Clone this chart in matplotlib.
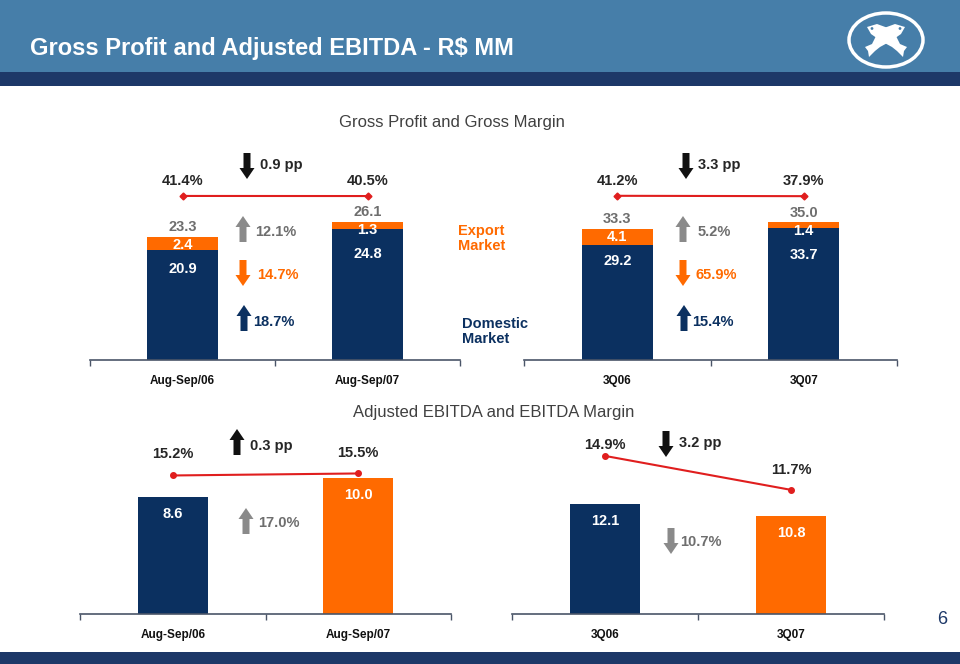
import matplotlib.pyplot as plt
from matplotlib.patches import Polygon, Rectangle, Circle, Ellipse

plt.rcParams['font.family'] = ['Liberation Sans', 'DejaVu Sans']

W, H = 960, 664

# gross profit, R$ MM (left group: Aug-Sep, right group: quarter)
gp_periods = [['Aug-Sep/06', 'Aug-Sep/07'], ['3Q06', '3Q07']]
gp_domestic = [[20.9, 24.8], [29.2, 33.7]]
gp_export = [[2.4, 1.3], [4.1, 1.4]]
gp_total = [[23.3, 26.1], [33.3, 35.0]]
gp_margin = [[41.4, 40.5], [41.2, 37.9]]
gp_margin_change = ['0.9 pp', '3.3 pp']
gp_total_growth = ['12.1%', '5.2%']
gp_export_growth = ['14.7%', '65.9%']
gp_domestic_growth = ['18.7%', '15.4%']

# adjusted EBITDA, R$ MM
eb_periods = [['Aug-Sep/06', 'Aug-Sep/07'], ['3Q06', '3Q07']]
eb_values = [[8.6, 10.0], [12.1, 10.8]]
eb_margin = [[15.2, 15.5], [14.9, 11.7]]
eb_margin_change = ['0.3 pp', '3.2 pp']
eb_growth = ['17.0%', '10.7%']

NAVY = '#0b3060'
ORANGE = '#ff6a00'
GRAY_T = '#6e6e6e'
GRAY_A = '#8a8a8a'
RED = '#e01e1e'
DARK = '#262626'
BAND = '#1d3868'
HEAD = '#467ea9'

fig = plt.figure(figsize=(9.6, 6.64), dpi=100)


def fx(x):
    return x / W


def fy(y):
    return 1 - y / H


def ftext(x, y, s, **kw):
    fig.text(fx(x), fy(y), s, va='center', **kw)


def arrow(x, ytail, ytip, color):
    sw, hw, hl = 3.5, 7.5, 11
    d = 1 if ytip > ytail else -1
    yn = ytip - d * hl
    pts = [(x - sw, ytail), (x + sw, ytail), (x + sw, yn), (x + hw, yn),
           (x, ytip), (x - hw, yn), (x - sw, yn)]
    fig.add_artist(Polygon([(fx(a), fy(b)) for a, b in pts], closed=True,
                           transform=fig.transFigure, fc=color, lw=0))


def updown(x, y_mid, up, color):
    # 27 px tall block arrow centred on y_mid
    if up:
        arrow(x, y_mid + 13, y_mid - 13, color)
    else:
        arrow(x, y_mid - 13, y_mid + 13, color)


def make_axes(x0, x1, y0, y1, labels, ymax):
    ax = fig.add_axes([fx(x0), fy(y1), fx(x1 - x0), (y1 - y0) / H])
    ax.set_xlim(-0.5, 1.5)
    ax.set_ylim(0, ymax)
    for s in ['top', 'right', 'left']:
        ax.spines[s].set_visible(False)
    ax.spines['bottom'].set_color('#4a5568')
    ax.spines['bottom'].set_linewidth(1.2)
    ax.set_yticks([])
    ax.set_xticks([0, 1], labels, fontsize=8.5, fontweight='bold', color='#111111')
    ax.set_xticks([-0.5, 0.5, 1.5], minor=True)
    ax.tick_params(axis='x', which='major', length=0, pad=11)
    ax.tick_params(axis='x', which='minor', length=4, width=1, color='#4a5568')
    ax.patch.set_alpha(0)
    return ax


def margin_line(ax, vals, lo, hi, offs, marker, ms):
    ax2 = ax.twinx()
    ax2.set_ylim(lo, hi)
    ax2.axis('off')
    ax2.plot([0, 1], vals, color=RED, lw=1.5, marker=marker, ms=ms)
    for i, v in enumerate(vals):
        ax2.annotate(f'{v}%', (i, v), xytext=(0, offs[i]), textcoords='offset pixels',
                     ha='center', va='center', fontsize=10.5, fontweight='bold', color=DARK)


# header and footer bands
fig.add_artist(Rectangle((0, fy(72)), 1, 72 / H, transform=fig.transFigure, fc=HEAD, lw=0))
fig.add_artist(Rectangle((0, fy(86)), 1, 14 / H, transform=fig.transFigure, fc=BAND, lw=0))
fig.add_artist(Rectangle((0, 0), 1, 12 / H, transform=fig.transFigure, fc=BAND, lw=0))
ftext(30, 48, 'Gross Profit and Adjusted EBITDA - R$ MM', color='white', fontsize=17,
      fontweight='bold')

# logo, drawn in pixel units of its own small axes (y downwards)
lg = fig.add_axes([fx(845), fy(80), fx(80), 80 / H], zorder=5)
lg.set_xlim(845, 925)
lg.set_ylim(80, 0)
lg.axis('off')
lg.add_patch(Ellipse((886, 40), 74, 54, fill=False, ec='white', lw=2.5))
fish = [(867, 27), (877, 24), (888, 28), (896, 36), (900, 44), (907, 47),
        (904, 51), (903, 57), (897, 51), (892, 47), (881, 41), (871, 34)]
lg.add_patch(Polygon(fish, closed=True, fc='white', lw=0))
lg.add_patch(Polygon([(1772 - a, b) for a, b in fish], closed=True, fc='white', lw=0))
lg.add_patch(Circle((872, 28.5), 1.4, fc=HEAD, lw=0))
lg.add_patch(Circle((900, 28.5), 1.4, fc=HEAD, lw=0))

# ---- gross profit panel ----
ftext(452, 123, 'Gross Profit and Gross Margin', ha='center', fontsize=12, color='#404040')
gp_boxes = [(90, 460, 41.67, (-1450, 550)), (524, 897, 56.1, (-1451.5, 548.5))]
gp_arrow_x = [(247, 243), (686, 683)]
gp_text_x = [(260, 255, 257, 253), (698, 698, 695, 692)]
for g in range(2):
    x0, x1, ymax, (lo, hi) = gp_boxes[g]
    ax = make_axes(x0, x1, 140, 360, gp_periods[g], ymax)
    ax.bar([0, 1], gp_domestic[g], width=0.38, color=NAVY)
    ax.bar([0, 1], gp_export[g], bottom=gp_domestic[g], width=0.38, color=ORANGE)
    for i in range(2):
        t = gp_total[g][i]
        ax.annotate(f'{t:.1f}', (i, t), xytext=(0, 10), textcoords='offset pixels',
                    ha='center', va='center', fontsize=10.5, fontweight='bold', color=GRAY_T)
        ax.annotate(f'{gp_export[g][i]:.1f}', (i, t), xytext=(0, -8), textcoords='offset pixels',
                    ha='center', va='center', fontsize=10.5, fontweight='bold', color='white')
        ax.annotate(f'{gp_domestic[g][i]:.1f}', (i, t), xytext=(0, -32), textcoords='offset pixels',
                    ha='center', va='center', fontsize=10.5, fontweight='bold', color='white')
    margin_line(ax, gp_margin[g], lo, hi, (15, 15), 'D', 3.5)

    ax_pp, ax_gr = gp_arrow_x[g]
    tx_pp, tx_tot, tx_exp, tx_dom = gp_text_x[g]
    updown(ax_pp, 166, gp_margin[g][1] > gp_margin[g][0], '#111111')
    ftext(tx_pp, 165, gp_margin_change[g], fontsize=10.5, fontweight='bold', color=DARK)
    updown(ax_gr, 229, gp_total[g][1] > gp_total[g][0], GRAY_A)
    ftext(tx_tot, 232, gp_total_growth[g], fontsize=10.5, fontweight='bold', color=GRAY_T)
    updown(ax_gr, 273, gp_export[g][1] > gp_export[g][0], ORANGE)
    ftext(tx_exp, 275, gp_export_growth[g], fontsize=10.5, fontweight='bold', color=ORANGE)
    updown(ax_gr + 1, 318, gp_domestic[g][1] > gp_domestic[g][0], NAVY)
    ftext(tx_dom, 322, gp_domestic_growth[g], fontsize=10.5, fontweight='bold', color=NAVY)

ftext(458, 238.5, 'Export\nMarket', fontsize=10.5, fontweight='bold', color=ORANGE, linespacing=1.15)
ftext(462, 331.5, 'Domestic\nMarket', fontsize=10.5, fontweight='bold', color=NAVY, linespacing=1.15)

# ---- EBITDA panel ----
ftext(494, 412, 'Adjusted EBITDA and EBITDA Margin', ha='center', fontsize=12, color='#404040')
eb_boxes = [(80, 451, 12.8, (-5.5, 20.5), (21, 20)), (512, 884, 19.1, (0, 16.4), (11, 20))]
eb_arrow_x = [(237, 246), (666, 671)]
eb_arrow_y = [(442, 521), (444, 541)]
eb_text = [((250, 446), (258, 523)), ((679, 443), (680, 542))]
for g in range(2):
    x0, x1, ymax, (lo, hi), offs = eb_boxes[g]
    ax = make_axes(x0, x1, 440, 614, eb_periods[g], ymax)
    ax.bar([0, 1], eb_values[g], width=0.38, color=[NAVY, ORANGE])
    for i, v in enumerate(eb_values[g]):
        ax.annotate(f'{v:.1f}', (i, v), xytext=(0, -17), textcoords='offset pixels',
                    ha='center', va='center', fontsize=10.5, fontweight='bold', color='white')
    margin_line(ax, eb_margin[g], lo, hi, offs, 'o', 4)

    (px_, gx_), (py_, gy_) = eb_arrow_x[g], eb_arrow_y[g]
    (tpx, tpy), (tgx, tgy) = eb_text[g]
    updown(px_, py_, eb_margin[g][1] > eb_margin[g][0], '#111111')
    ftext(tpx, tpy, eb_margin_change[g], fontsize=10.5, fontweight='bold', color=DARK)
    updown(gx_, gy_, eb_values[g][1] > eb_values[g][0], GRAY_A)
    ftext(tgx, tgy, eb_growth[g], fontsize=10.5, fontweight='bold', color=GRAY_T)

ftext(942, 620, '6', ha='center', fontsize=13, color=BAND)

fig.savefig('out.png', dpi=100)
